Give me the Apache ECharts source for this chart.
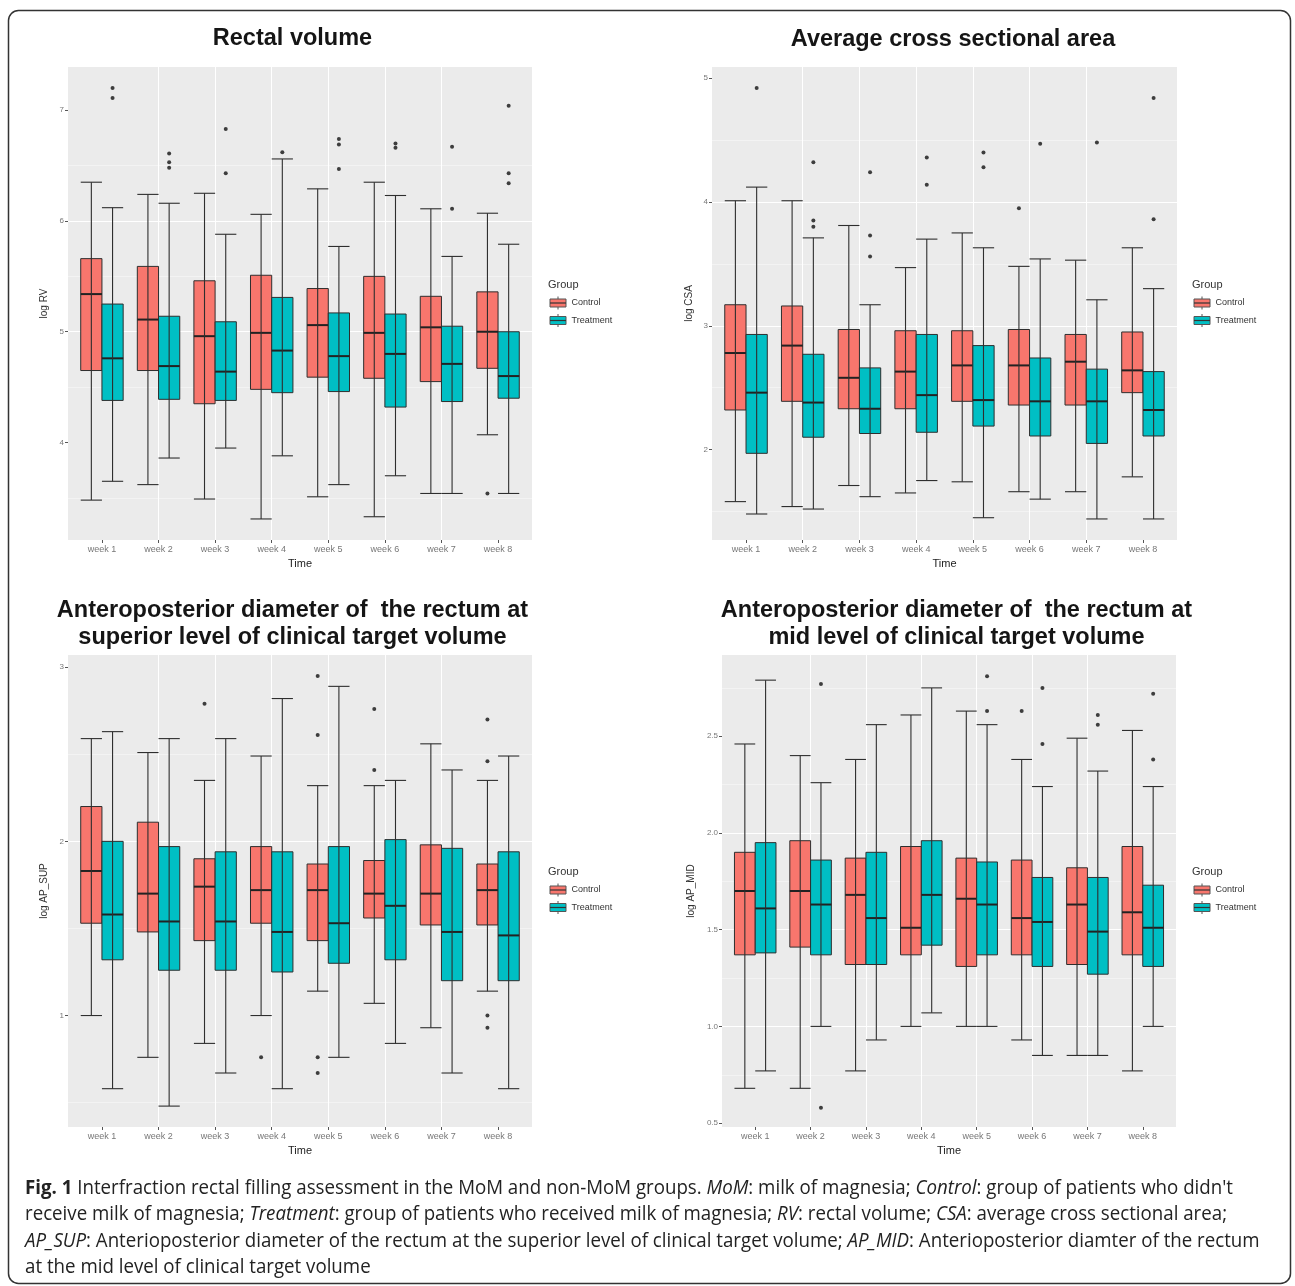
<!DOCTYPE html>
<html>
<head>
<meta charset="utf-8">
<script src="https://cdn.jsdelivr.net/npm/echarts@6.0.0/dist/echarts.min.js"></script>
<style>
html,body{margin:0;padding:0;background:#fff;}
#chart{width:1295px;height:1286px;}
</style>
</head>
<body>
<div id="chart"></div>
<script>
// ---------------- DATA ----------------
const weeks = ['week 1','week 2','week 3','week 4','week 5','week 6','week 7','week 8'];
const weekNums = [1,2,3,4,5,6,7,8];
const groupNames = ['Control','Treatment'];

// Each row: [lower whisker, Q1, median, Q3, upper whisker]
const rvControl = [
  [3.48,4.65,5.34,5.66,6.35],[3.62,4.65,5.11,5.59,6.24],[3.49,4.35,4.96,5.46,6.25],[3.31,4.48,4.99,5.51,6.06],
  [3.51,4.59,5.06,5.39,6.29],[3.33,4.58,4.99,5.50,6.35],[3.54,4.55,5.04,5.32,6.11],[4.07,4.67,5.00,5.36,6.07]
];
const rvTreatment = [
  [3.65,4.38,4.76,5.25,6.12],[3.86,4.39,4.69,5.14,6.16],[3.95,4.38,4.64,5.09,5.88],[3.88,4.45,4.83,5.31,6.56],
  [3.62,4.46,4.78,5.17,5.77],[3.70,4.32,4.80,5.16,6.23],[3.54,4.37,4.71,5.05,5.68],[3.54,4.40,4.60,5.00,5.79]
];
const rvControlOutliers = [[8,3.54]];
const rvTreatmentOutliers = [
  [1,7.20],[1,7.11],[2,6.61],[2,6.53],[2,6.48],[3,6.83],[3,6.43],[4,6.62],
  [5,6.74],[5,6.69],[5,6.47],[6,6.70],[6,6.66],[7,6.67],[7,6.11],[8,7.04],[8,6.43],[8,6.34]
];

const csaControl = [
  [1.58,2.32,2.78,3.17,4.01],[1.54,2.39,2.84,3.16,4.01],[1.71,2.33,2.58,2.97,3.81],[1.65,2.33,2.63,2.96,3.47],
  [1.74,2.39,2.68,2.96,3.75],[1.66,2.36,2.68,2.97,3.48],[1.66,2.36,2.71,2.93,3.53],[1.78,2.46,2.64,2.95,3.63]
];
const csaTreatment = [
  [1.48,1.97,2.46,2.93,4.12],[1.52,2.10,2.38,2.77,3.71],[1.62,2.13,2.33,2.66,3.17],[1.75,2.14,2.44,2.93,3.70],
  [1.45,2.19,2.40,2.84,3.63],[1.60,2.11,2.39,2.74,3.54],[1.44,2.05,2.39,2.65,3.21],[1.44,2.11,2.32,2.63,3.30]
];
const csaControlOutliers = [[6,3.95]];
const csaTreatmentOutliers = [
  [1,4.92],[2,4.32],[2,3.85],[2,3.80],[3,4.24],[3,3.73],[3,3.56],[4,4.36],[4,4.14],
  [5,4.40],[5,4.28],[6,4.47],[7,4.48],[8,4.84],[8,3.86]
];

const apSupControl = [
  [1.00,1.53,1.83,2.20,2.59],[0.76,1.48,1.70,2.11,2.51],[0.84,1.43,1.74,1.90,2.35],[1.00,1.53,1.72,1.97,2.49],
  [1.14,1.43,1.72,1.87,2.32],[1.07,1.56,1.70,1.89,2.32],[0.93,1.52,1.70,1.98,2.56],[1.14,1.52,1.72,1.87,2.35]
];
const apSupTreatment = [
  [0.58,1.32,1.58,2.00,2.63],[0.48,1.26,1.54,1.97,2.59],[0.67,1.26,1.54,1.94,2.59],[0.58,1.25,1.48,1.94,2.82],
  [0.76,1.30,1.53,1.97,2.89],[0.84,1.32,1.63,2.01,2.35],[0.67,1.20,1.48,1.96,2.41],[0.58,1.20,1.46,1.94,2.49]
];
const apSupControlOutliers = [
  [3,2.79],[4,0.76],[5,2.95],[5,2.61],[5,0.76],[5,0.67],[6,2.76],[6,2.41],[8,2.70],[8,2.46],[8,1.00],[8,0.93]
];
const apSupTreatmentOutliers = [];

const apMidControl = [
  [0.68,1.37,1.70,1.90,2.46],[0.68,1.41,1.70,1.96,2.40],[0.77,1.32,1.68,1.87,2.38],[1.00,1.37,1.51,1.93,2.61],
  [1.00,1.31,1.66,1.87,2.63],[0.93,1.37,1.56,1.86,2.38],[0.85,1.32,1.63,1.82,2.49],[0.77,1.37,1.59,1.93,2.53]
];
const apMidTreatment = [
  [0.77,1.38,1.61,1.95,2.79],[1.00,1.37,1.63,1.86,2.26],[0.93,1.32,1.56,1.90,2.56],[1.07,1.42,1.68,1.96,2.75],
  [1.00,1.37,1.63,1.85,2.56],[0.85,1.31,1.54,1.77,2.24],[0.85,1.27,1.49,1.77,2.32],[1.00,1.31,1.51,1.73,2.24]
];
const apMidControlOutliers = [[6,2.63]];
const apMidTreatmentOutliers = [
  [2,2.77],[2,0.58],[5,2.81],[5,2.63],[6,2.75],[6,2.46],[7,2.61],[7,2.56],[8,2.72],[8,2.38]
];

// Axis ranges and tick labels
const rvRange = [3.12, 7.39];   const rvTicks = [4,5,6,7];
const csaRange = [1.27, 5.09];  const csaTicks = [2,3,4,5];
const apSupRange = [0.36, 3.07]; const apSupTicks = [1,2,3];
const apMidRange = [0.48, 2.92]; const apMidTicks = [0.5,1.0,1.5,2.0,2.5];

const titles = [
  ['Rectal volume'],
  ['Average cross sectional area'],
  ['Anteroposterior diameter of  the rectum at','superior level of clinical target volume'],
  ['Anteroposterior diameter of  the rectum at','mid level of clinical target volume']
];
const yNames = ['log RV','log CSA','log AP_SUP','log AP_MID'];

// ---------------- LAYOUT / STYLE ----------------
const FILL = ['#F8766D','#00BFC4'];
const HALF = 0.1875;            // half box width (dodge 0.75 / 2 groups)
const OFFS = [-0.1875, 0.1875];
const AX_FONT = 'Liberation Sans, Arial, sans-serif';

const panels = [
  {ctrl: rvControl, trt: rvTreatment, co: rvControlOutliers, to: rvTreatmentOutliers, range: rvRange, ticks: rvTicks, step: 1, dec: 0,
   grid:{left:68, top:67, width:464, height:473}, nameGap:19, titleX:292.5, titleY:[39], legend:[548,285]},
  {ctrl: csaControl, trt: csaTreatment, co: csaControlOutliers, to: csaTreatmentOutliers, range: csaRange, ticks: csaTicks, step: 1, dec: 0,
   grid:{left:712, top:67, width:465, height:473}, nameGap:18, titleX:953, titleY:[40], legend:[1192,285]},
  {ctrl: apSupControl, trt: apSupTreatment, co: apSupControlOutliers, to: apSupTreatmentOutliers, range: apSupRange, ticks: apSupTicks, step: 1, dec: 0,
   grid:{left:68, top:655, width:464, height:472}, nameGap:19, titleX:292.5, titleY:[611,638], legend:[548,872]},
  {ctrl: apMidControl, trt: apMidTreatment, co: apMidControlOutliers, to: apMidTreatmentOutliers, range: apMidRange, ticks: apMidTicks, step: 0.5, dec: 1,
   grid:{left:722, top:655, width:454, height:472}, nameGap:26, titleX:956.5, titleY:[611,638], legend:[1192,872]}
];

function makeRender(fill, off) {
  return function (params, api) {
    const x = api.value(0) + off;
    const lo = api.value(1), q1 = api.value(2), md = api.value(3), q3 = api.value(4), hi = api.value(5);
    const pTL = api.coord([x - HALF, q3]);
    const pBR = api.coord([x + HALF, q1]);
    const pMd = api.coord([x, md]);
    const yLo = api.coord([x, lo])[1];
    const yHi = api.coord([x, hi])[1];
    const xl = pTL[0], xr = pBR[0], xc = pMd[0];
    const ln = '#2e2e2e';
    return {
      type: 'group',
      children: [
        {type:'rect', shape:{x:xl, y:pTL[1], width:xr-xl, height:pBR[1]-pTL[1]}, style:{fill:fill, stroke:ln, lineWidth:1}},
        {type:'line', shape:{x1:xl, y1:pMd[1], x2:xr, y2:pMd[1]}, style:{stroke:'#222', lineWidth:2}},
        {type:'line', shape:{x1:xc, y1:yHi, x2:xc, y2:yLo}, style:{stroke:ln, lineWidth:1.1}},
        {type:'line', shape:{x1:xl, y1:yHi, x2:xr, y2:yHi}, style:{stroke:ln, lineWidth:1.1}},
        {type:'line', shape:{x1:xl, y1:yLo, x2:xr, y2:yLo}, style:{stroke:ln, lineWidth:1.1}}
      ]
    };
  };
}

const isNear = (v, arr) => arr.some(t => Math.abs(t - v) < 1e-6);

const grid = [], xAxis = [], yAxis = [], series = [], graphic = [];

panels.forEach((p, i) => {
  grid.push(Object.assign({show:true, backgroundColor:'#EBEBEB', borderWidth:0, containLabel:false}, p.grid));
  xAxis.push({
    type:'value', gridIndex:i, min:0.4, max:8.6, minInterval:1, maxInterval:1,
    axisLine:{show:false},
    axisTick:{show:true, length:3, lineStyle:{color:'#555', width:1}, customValues: weekNums},
    axisLabel:{show:true, customValues: weekNums, fontSize:9, color:'#777', margin:5, fontFamily:AX_FONT,
      formatter: v => isNear(v, weekNums) ? weeks[Math.round(v)-1] : ''},
    splitLine:{show:true, showMinLine:false, showMaxLine:false, lineStyle:{color:'#ffffff', width:1}},
    name:'Time', nameLocation:'middle', nameGap:18,
    nameTextStyle:{fontSize:11, color:'#222', fontFamily:AX_FONT}
  });
  yAxis.push({
    type:'value', gridIndex:i, min:p.range[0], max:p.range[1], minInterval:p.step, maxInterval:p.step,
    axisLine:{show:false},
    axisTick:{show:true, length:3, lineStyle:{color:'#555', width:1}, customValues: p.ticks},
    axisLabel:{show:true, customValues: p.ticks, fontSize:8, color:'#777', margin:4, fontFamily:AX_FONT,
      formatter: v => isNear(v, p.ticks) ? v.toFixed(p.dec) : ''},
    splitLine:{show:true, showMinLine:false, showMaxLine:false, lineStyle:{color:'#ffffff', width:1}},
    minorTick:{show:false, splitNumber:2},
    minorSplitLine:{show:true, lineStyle:{color:'#f8f8f8', width:0.6}},
    name: yNames[i], nameLocation:'middle', nameGap:p.nameGap,
    nameTextStyle:{fontSize:10, color:'#333', fontFamily:AX_FONT}
  });
  [p.ctrl, p.trt].forEach((arr, g) => {
    series.push({
      type:'custom', name: groupNames[g], xAxisIndex:i, yAxisIndex:i,
      renderItem: makeRender(FILL[g], OFFS[g]),
      encode:{x:0, y:[1,2,3,4,5]},
      data: arr.map((v, k) => [weekNums[k]].concat(v)),
      z: 2
    });
  });
  [p.co, p.to].forEach((arr, g) => {
    series.push({
      type:'scatter', name: groupNames[g] + ' outliers', xAxisIndex:i, yAxisIndex:i,
      symbol:'circle', symbolSize:4, itemStyle:{color:'#111'},
      data: arr.map(o => [o[0] + OFFS[g], o[1]]),
      z: 3
    });
  });

  // Titles
  titles[i].forEach((t, k) => {
    graphic.push({type:'text', x:p.titleX, y:p.titleY[k], style:{
      text:t, fontSize:23.5, fontWeight:'bold', fontFamily:AX_FONT, fill:'#151515',
      align:'center', verticalAlign:'middle', textAlign:'center', textVerticalAlign:'middle'}});
  });

  // Legend (ggplot style)
  const gx = p.legend[0], gy = p.legend[1];
  graphic.push({type:'text', x:gx, y:gy, style:{text:'Group', fontSize:11, fontFamily:AX_FONT, fill:'#333',
    align:'left', verticalAlign:'middle', textAlign:'left', textVerticalAlign:'middle'}});
  groupNames.forEach((nm, g) => {
    const cy = gy + 18 + g * 17.5;
    graphic.push({type:'line', shape:{x1:gx+10, y1:cy-6.5, x2:gx+10, y2:cy+6.5}, style:{stroke:'#555', lineWidth:1}});
    graphic.push({type:'rect', shape:{x:gx+2, y:cy-4, width:16, height:8}, style:{fill:FILL[g], stroke:'#555', lineWidth:1}});
    graphic.push({type:'line', shape:{x1:gx+2, y1:cy, x2:gx+18, y2:cy}, style:{stroke:'#333', lineWidth:1.2}});
    graphic.push({type:'text', x:gx+23.5, y:cy, style:{text:nm, fontSize:9, fontFamily:AX_FONT, fill:'#333',
      align:'left', verticalAlign:'middle', textAlign:'left', textVerticalAlign:'middle'}});
  });
});

// ---------------- CAPTION ----------------
const captionLines = [
  [['b','Fig. 1'],['n',' Interfraction rectal filling assessment in the MoM and non-MoM groups. '],['i','MoM'],['n',': milk of magnesia; '],['i','Control'],['n',': group of patients who didn\'t']],
  [['n','receive milk of magnesia; '],['i','Treatment'],['n',': group of patients who received milk of magnesia; '],['i','RV'],['n',': rectal volume; '],['i','CSA'],['n',': average cross sectional area;']],
  [['i','AP_SUP'],['n',': Anterioposterior diameter of the rectum at the superior level of clinical target volume; '],['i','AP_MID'],['n',': Anterioposterior diamter of the rectum']],
  [['n','at the mid level of clinical target volume']]
];
const CAP_FAMILY = '"Open Sans", "Noto Sans", sans-serif';
const CAP_SIZE = 19.5;
const capFonts = {
  n: `normal ${CAP_SIZE}px ${CAP_FAMILY}`,
  b: `bold ${CAP_SIZE}px ${CAP_FAMILY}`,
  i: `italic ${CAP_SIZE}px ${CAP_FAMILY}`
};
const mctx = document.createElement('canvas').getContext('2d');
function lineWidth(segs) {
  let w = 0;
  segs.forEach(s => { mctx.font = capFonts[s[0]]; w += mctx.measureText(s[1]).width; });
  return w;
}
const capScale = 1208 / lineWidth(captionLines[0]);
const capY = [1188, 1214.5, 1241, 1267.5];
captionLines.forEach((segs, k) => {
  const txt = segs.map(s => s[0] === 'n' ? s[1] : '{' + s[0] + '|' + s[1] + '}').join('');
  graphic.push({type:'text', x:25, y:capY[k], scaleX:capScale, originX:0, originY:0, style:{
    text: txt, fontSize: CAP_SIZE, fontFamily: CAP_FAMILY, fill:'#222',
    align:'left', verticalAlign:'middle', textAlign:'left', textVerticalAlign:'middle',
    rich:{
      b:{fontWeight:'bold', fontSize:CAP_SIZE, fontFamily:CAP_FAMILY, fill:'#222'},
      i:{fontStyle:'italic', fontSize:CAP_SIZE, fontFamily:CAP_FAMILY, fill:'#222'}
    }
  }});
});

// Frame
graphic.push({type:'rect', shape:{x:8.5, y:10.5, width:1282, height:1273, r:10}, style:{fill:'none', stroke:'#333', lineWidth:1.5}, z:10});

const chart = echarts.init(document.getElementById('chart'), null, {renderer:'canvas'});
chart.setOption({
  animation:false,
  backgroundColor:'#ffffff',
  grid, xAxis, yAxis, series, graphic
});
</script>
</body>
</html>
